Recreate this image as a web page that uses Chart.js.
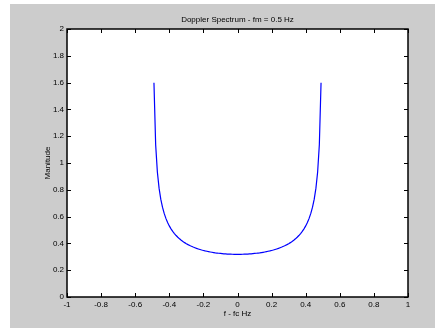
<!DOCTYPE html>
<html>
<head>
<meta charset="utf-8">
<script src="https://cdn.jsdelivr.net/npm/chart.js@4.4.0/dist/chart.umd.min.js"></script>
<style>
  html, body { margin: 0; padding: 0; background: #fff; }
  #wrap { position: absolute; left: 10px; top: 4px; width: 425px; height: 324px; background: #cccccc; }
</style>
</head>
<body>
<div id="wrap"><canvas id="myChart" width="425" height="324"></canvas></div>
<script>
const chartTitle = 'Doppler Spectrum - fm = 0.5 Hz';
const xLabel = 'f - fc Hz';
const yLabel = 'Manitude';

// frequency offsets (Hz)
const freqs = [
  -0.49, -0.48, -0.47, -0.46, -0.45, -0.44, -0.43, -0.42, -0.41, -0.40,
  -0.39, -0.38, -0.37, -0.36, -0.35, -0.34, -0.33, -0.32, -0.31, -0.30,
  -0.29, -0.28, -0.27, -0.26, -0.25, -0.24, -0.23, -0.22, -0.21, -0.20,
  -0.19, -0.18, -0.17, -0.16, -0.15, -0.14, -0.13, -0.12, -0.11, -0.10,
  -0.09, -0.08, -0.07, -0.06, -0.05, -0.04, -0.03, -0.02, -0.01, 0,
  0.01, 0.02, 0.03, 0.04, 0.05, 0.06, 0.07, 0.08, 0.09, 0.10,
  0.11, 0.12, 0.13, 0.14, 0.15, 0.16, 0.17, 0.18, 0.19, 0.20,
  0.21, 0.22, 0.23, 0.24, 0.25, 0.26, 0.27, 0.28, 0.29, 0.30,
  0.31, 0.32, 0.33, 0.34, 0.35, 0.36, 0.37, 0.38, 0.39, 0.40,
  0.41, 0.42, 0.43, 0.44, 0.45, 0.46, 0.47, 0.48, 0.49
];

const magnitude = [
  1.5996, 1.1368, 0.9330, 0.8122, 0.7303, 0.6702, 0.6238, 0.5866, 0.5561, 0.5305,
  0.5087, 0.4898, 0.4732, 0.4587, 0.4457, 0.4341, 0.4237, 0.4143, 0.4057, 0.3979,
  0.3907, 0.3842, 0.3782, 0.3727, 0.3676, 0.3628, 0.3585, 0.3545, 0.3507, 0.3473,
  0.3441, 0.3412, 0.3385, 0.3360, 0.3337, 0.3316, 0.3296, 0.3279, 0.3263, 0.3249,
  0.3236, 0.3225, 0.3215, 0.3206, 0.3199, 0.3193, 0.3189, 0.3186, 0.3184, 0.3183,
  0.3184, 0.3186, 0.3189, 0.3193, 0.3199, 0.3206, 0.3215, 0.3225, 0.3236, 0.3249,
  0.3263, 0.3279, 0.3296, 0.3316, 0.3337, 0.3360, 0.3385, 0.3412, 0.3441, 0.3473,
  0.3507, 0.3545, 0.3585, 0.3628, 0.3676, 0.3727, 0.3782, 0.3842, 0.3907, 0.3979,
  0.4057, 0.4143, 0.4237, 0.4341, 0.4457, 0.4587, 0.4732, 0.4898, 0.5087, 0.5305,
  0.5561, 0.5866, 0.6238, 0.6702, 0.7303, 0.8122, 0.9330, 1.1368, 1.5996
];

const xTicks = [-1, -0.8, -0.6, -0.4, -0.2, 0, 0.2, 0.4, 0.6, 0.8, 1];
const yTicks = [0, 0.2, 0.4, 0.6, 0.8, 1, 1.2, 1.4, 1.6, 1.8, 2];

const font = 'Liberation Sans, Arial, sans-serif';
const fmt = v => String(Number(v.toFixed(1)));

// white axes box, black frame, inward ticks on all sides, title
const matlabFrame = {
  id: 'matlabFrame',
  beforeDraw(chart) {
    const { ctx, chartArea: a } = chart;
    ctx.save();
    ctx.fillStyle = '#ffffff';
    ctx.fillRect(a.left, a.top, a.right - a.left, a.bottom - a.top);
    ctx.restore();
  },
  afterDraw(chart) {
    const { ctx, chartArea: a, scales } = chart;
    ctx.save();
    ctx.strokeStyle = '#000';
    ctx.lineWidth = 1;
    ctx.beginPath();
    xTicks.forEach(v => {
      const px = Math.round(scales.x.getPixelForValue(v)) + 0.5;
      ctx.moveTo(px, a.bottom); ctx.lineTo(px, a.bottom - 4);
      ctx.moveTo(px, a.top); ctx.lineTo(px, a.top + 4);
    });
    yTicks.forEach(v => {
      const py = Math.round(scales.y.getPixelForValue(v)) + 0.5;
      ctx.moveTo(a.left, py); ctx.lineTo(a.left + 4, py);
      ctx.moveTo(a.right, py); ctx.lineTo(a.right - 4, py);
    });
    ctx.stroke();
    ctx.lineWidth = 1.5;
    ctx.strokeRect(Math.round(a.left), Math.round(a.top), Math.round(a.right - a.left), Math.round(a.bottom - a.top));
    ctx.fillStyle = '#000';
    ctx.font = '8px ' + font;
    ctx.textAlign = 'center';
    ctx.textBaseline = 'middle';
    ctx.fillText(chartTitle, (a.left + a.right) / 2, a.top - 9);
    ctx.restore();
  }
};

const ctx = document.getElementById('myChart');
const myChart = new Chart(ctx, {
  type: 'line',
  data: {
    datasets: [
      {
        label: 'Magnitude',
        data: freqs.map((f, i) => ({ x: f, y: magnitude[i] })),
        borderColor: '#0000ff',
        borderWidth: 1.2,
        pointRadius: 0,
        tension: 0,
        fill: false
      }
    ]
  },
  options: {
    responsive: false,
    animation: false,
    devicePixelRatio: 1,
    layout: { padding: { top: 25, right: 27, bottom: 0, left: 0 } },
    plugins: {
      legend: { display: false },
      tooltip: { enabled: false },
      title: { display: false }
    },
    scales: {
      x: {
        type: 'linear',
        min: -1,
        max: 1,
        afterBuildTicks: s => { s.ticks = xTicks.map(v => ({ value: v })); },
        afterFit: s => { s.height = 31; },
        grid: { display: false, drawTicks: false },
        border: { display: false },
        ticks: { color: '#000', font: { family: font, size: 8 }, padding: 3, maxRotation: 0, autoSkip: false, callback: fmt },
        title: { display: true, text: xLabel, color: '#000', font: { family: font, size: 8 }, padding: { top: 0, bottom: 9 } }
      },
      y: {
        type: 'linear',
        min: 0,
        max: 2,
        afterBuildTicks: s => { s.ticks = yTicks.map(v => ({ value: v })); },
        afterFit: s => { s.width = 57; },
        grid: { display: false, drawTicks: false },
        border: { display: false },
        ticks: { color: '#000', font: { family: font, size: 8 }, padding: 3, autoSkip: false, callback: fmt },
        title: { display: true, text: yLabel, color: '#000', font: { family: font, size: 8 }, padding: { top: 33, bottom: 0 } }
      }
    }
  },
  plugins: [matlabFrame]
});
</script>
</body>
</html>
